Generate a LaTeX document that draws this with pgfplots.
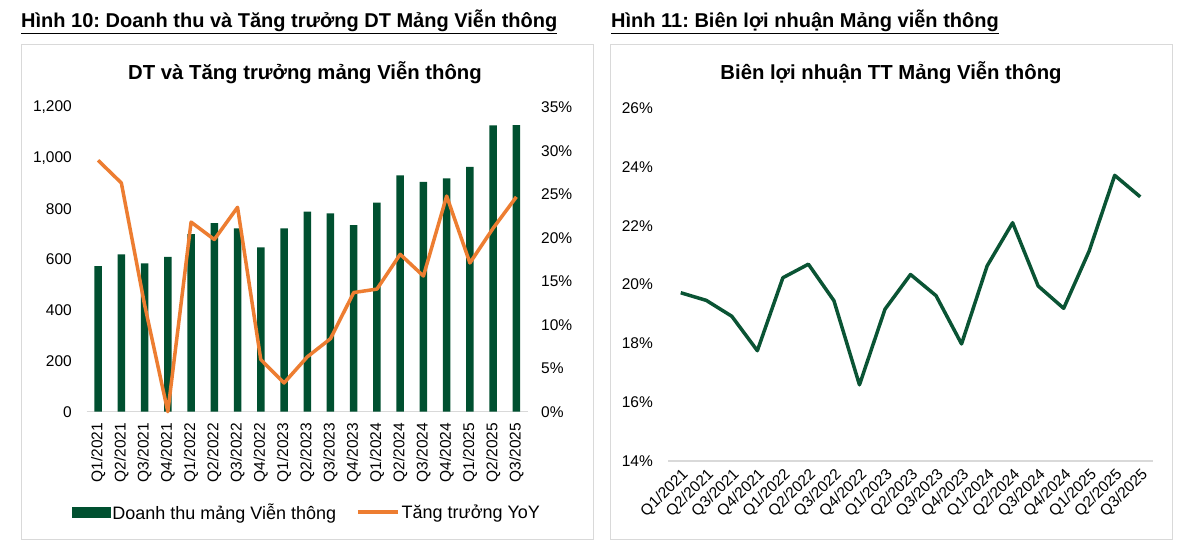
\documentclass[border=0pt]{standalone}
\usepackage{fontspec}
\setmainfont{Liberation Sans}
\usepackage{pgfplots}
\usepackage{pgfplotstable}
\pgfplotsset{compat=1.18}
\frenchspacing

\definecolor{barg}{RGB}{0,80,48}
\definecolor{lineg}{RGB}{10,84,52}
\definecolor{orng}{RGB}{237,125,49}
\definecolor{frame}{RGB}{217,217,217}

\newcommand{\tickfont}{\fontsize{15.5}{18}\selectfont}
\newcommand{\legfont}{\fontsize{18}{21}\selectfont}
\newcommand{\headfont}{\fontsize{20}{24}\selectfont\bfseries}
\newcommand{\titfont}{\fontsize{20.3}{24}\selectfont\bfseries}

% quarter index, revenue (bn VND), YoY growth (%), margin (%)
\pgfplotstableread{
x rev yoy margin
0 574 28.9 19.72
1 620 26.3 19.46
2 585 12.3 18.92
3 610 0.0 17.75
4 700 21.8 20.23
5 743 19.8 20.69
6 723 23.5 19.45
7 648 6.0 16.59
8 723 3.3 19.16
9 789 6.3 20.34
10 782 8.4 19.62
11 736 13.7 17.98
12 824 14.1 20.63
13 932 18.1 22.10
14 906 15.6 19.95
15 920 24.8 19.19
16 965 17.1 21.14
17 1129 21.1 23.71
18 1130 24.7 22.98
}\data

\pgfplotsset{
  base/.style={
    scale only axis,
    xmin=-0.5, xmax=18.5,
    major tick length=0pt,
    tick label style={font=\tickfont},
    every tick label/.append style={inner sep=0pt},
    /pgf/number format/assume math mode=true,
  },
  quarters/.style={
    xtick={0,...,18},
    xticklabels={Q1/2021,Q2/2021,Q3/2021,Q4/2021,Q1/2022,Q2/2022,Q3/2022,Q4/2022,
      Q1/2023,Q2/2023,Q3/2023,Q4/2023,Q1/2024,Q2/2024,Q3/2024,Q4/2024,
      Q1/2025,Q2/2025,Q3/2025},
  },
  linelegend/.style={legend image code/.code={\draw[##1] (0pt,0pt) -- (40pt,0pt);}},
  barlegend/.style={legend image code/.code={\fill[barg] (0pt,-5pt) rectangle (38pt,5pt);}},
}

\begin{document}
\begin{tikzpicture}[x=1pt,y=1pt]
\fill[white] (0,0) rectangle (1185,547);

% panel frames
\draw[frame, line width=1pt] (21.5,8) rectangle (593,502.5);
\draw[frame, line width=1pt] (610.5,8) rectangle (1172,502.5);

% headings
\node[anchor=base west, font=\headfont, inner sep=0pt] at (21,519)
  {\underline{Hình 10: Doanh thu và Tăng trưởng DT Mảng Viễn thông}};
\node[anchor=base west, font=\headfont, inner sep=0pt] at (611,519)
  {\underline{Hình 11: Biên lợi nhuận Mảng viễn thông}};

% chart titles
\node[anchor=base, font=\titfont, inner sep=0pt] at (305,467)
  {DT và Tăng trưởng mảng Viễn thông};
\node[anchor=base, font=\titfont, inner sep=0pt] at (891,467)
  {Biên lợi nhuận TT Mảng Viễn thông};

% left chart: revenue bars
\begin{axis}[base, quarters,
  at={(86.5pt,135.3pt)}, anchor=south west,
  width=441.5pt, height=304.4pt,
  ymin=0, ymax=1200, ytick={0,200,...,1200},
  /pgf/number format/1000 sep={,},
  axis x line*=bottom, axis y line*=left,
  y axis line style={draw=none},
  x axis line style={draw=frame, line width=1.2pt},
  x tick label style={rotate=90, anchor=east},
  xticklabel shift=11pt, yticklabel shift=14.5pt,
  ybar, bar width=7.5pt,
]
\addplot[fill=barg, draw=none] table[x=x, y=rev] {\data};
\end{axis}

% left chart: YoY growth line, right axis
\begin{axis}[base,
  at={(86.5pt,135.3pt)}, anchor=south west,
  width=441.5pt, height=304.4pt,
  ymin=0, ymax=35, ytick={0,5,...,35},
  yticklabels={0\%,5\%,10\%,15\%,20\%,25\%,30\%,35\%},
  axis y line*=right, axis x line=none,
  y axis line style={draw=none},
  xtick=\empty,
  yticklabel shift=13pt,
  clip=false,
  legend style={at={(0.4994,-0.3295)}, anchor=center, draw=none, fill=none,
    font=\legfont, legend columns=2,
    /tikz/every even column/.append style={column sep=18pt}},
]
\addlegendimage{barlegend}
\addlegendentry{Doanh thu mảng Viễn thông}
\addplot[orng, line width=3.5pt, line join=round, linelegend]
  table[x=x, y=yoy] {\data};
\addlegendentry{Tăng trưởng YoY}
\end{axis}

% right chart: margin
\begin{axis}[base, quarters,
  at={(668pt,86pt)}, anchor=south west,
  width=485pt, height=353pt,
  ymin=14, ymax=26, ytick={14,16,...,26},
  yticklabels={14\%,16\%,18\%,20\%,22\%,24\%,26\%},
  axis x line*=bottom, axis y line*=left,
  y axis line style={draw=none},
  x axis line style={draw=frame, line width=1.2pt},
  x tick label style={rotate=45, anchor=north east},
  xticklabel shift=6pt, yticklabel shift=15pt,
  clip=false,
]
\addplot[lineg, line width=3.5pt, line join=round] table[x=x, y=margin] {\data};
\end{axis}
\end{tikzpicture}
\end{document}
